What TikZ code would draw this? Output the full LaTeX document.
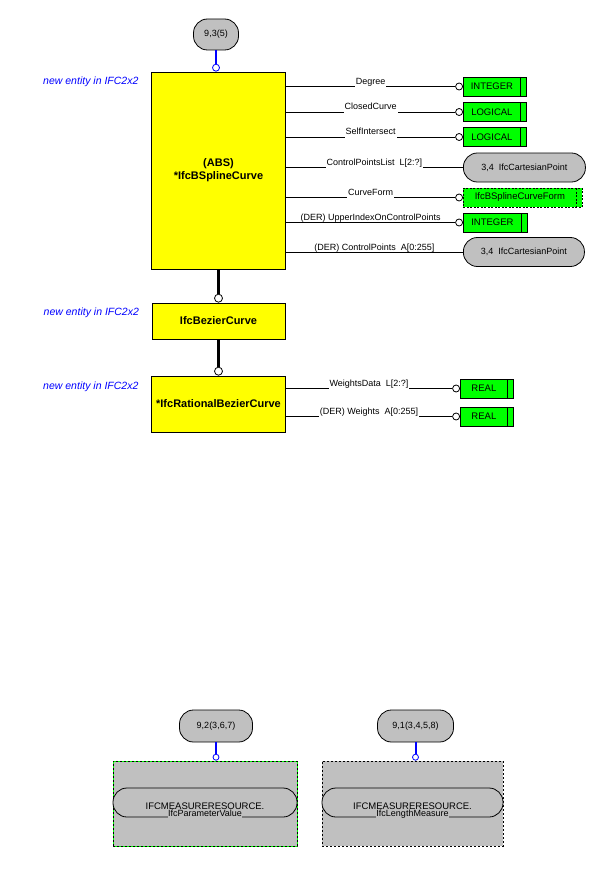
\documentclass[tikz,border=0pt]{standalone}
\usepackage{fontspec}
\setmainfont{Liberation Sans}
\usetikzlibrary{positioning}
\definecolor{ifcyellow}{RGB}{255,255,0}
\definecolor{ifcgreen}{RGB}{0,255,0}
\definecolor{ifcgray}{RGB}{192,192,192}
\definecolor{ifcblue}{RGB}{0,0,255}
\tikzset{
	entity/.style={draw,fill=ifcyellow,align=center,font=\fontsize{11}{13}\selectfont\bfseries},
	simple/.style={draw,fill=ifcgreen,anchor=west,minimum height=19pt,inner sep=0pt,font=\fontsize{9.5}{11}\selectfont,
		execute at end node={\hspace{6pt}},
		path picture={\draw ([xshift=-6pt]path picture bounding box.north east) -- ([xshift=-6pt]path picture bounding box.south east);}},
	ref/.style={draw,fill=ifcgray,rounded corners=14pt,minimum height=29pt,inner sep=0pt},
	knob/.style={circle,draw,fill=white,minimum size=7pt,inner sep=0pt},
	attr/.style={fill=white,inner sep=1pt,text height=7pt,text depth=2pt,anchor=base,yshift=2pt},
	newent/.style={text=ifcblue,font=\fontsize{10.5}{12}\selectfont\itshape},
	link/.style={line width=2.6pt},
	uplink/.style={draw=ifcblue,line width=2pt},
	typebox/.style={fill=ifcgray,minimum width=#1,minimum height=85pt,draw,dash pattern=on 2pt off 2pt},
	schema/.style={font=\fontsize{9.5}{11}\selectfont}
}
\begin{document}
\begin{tikzpicture}[x=1pt,y=-1pt,line width=0.8pt,font=\fontsize{9}{11}\selectfont]
	\useasboundingbox (0,0) rectangle (600,888);

	\node[entity,minimum width=134pt,minimum height=197pt] (bspline) at (218.5,170.5) {(ABS)\\*IfcBSplineCurve};
	\node[entity,minimum width=133pt,minimum height=36pt] (bezier) at (218.5,321) {IfcBezierCurve};
	\node[entity,minimum width=134pt,minimum height=56pt] (rational) at (218.5,404) {*IfcRationalBezierCurve};

	\node[newent,left=9pt of bspline.north west,yshift=-10pt] (newA) {new entity in IFC2x2};
	\node[newent,left=9pt of bezier.north west,yshift=-10pt] (newB) {new entity in IFC2x2};
	\node[newent,left=9pt of rational.north west,yshift=-11pt] (newC) {new entity in IFC2x2};

	\node[ref,minimum width=45pt,minimum height=31pt] (super) at (216,34.5) {9,3(5)};
	\node[knob,draw=ifcblue,anchor=south] (superK) at (super.south |- bspline.north) {};
	\draw[uplink] (super) -- (superK);

	\node[knob,minimum size=8pt,above=0pt of bezier] (bezierK) {};
	\node[knob,minimum size=8pt,above=0pt of rational] (rationalK) {};
	\draw[link] (bspline) -- (bezierK);
	\draw[link] (bezier) -- (rationalK);

	\node[simple,minimum width=63pt] (degT) at (463,86.5) {INTEGER};
	\node[simple,minimum width=63pt] (closedT) at (463,112) {LOGICAL};
	\node[simple,minimum width=63pt] (selfT) at (463,137) {LOGICAL};
	\node[ref,minimum width=122pt,anchor=west] (cplistT) at (463,167.5) {3,4\ \ IfcCartesianPoint};
	\node[simple,minimum width=119pt,dash pattern=on 2pt off 1.5pt] (formT) at (463,197.5) {IfcBSplineCurveForm};
	\node[simple,minimum width=64pt] (upperT) at (463,222.5) {INTEGER};
	\node[ref,minimum width=121pt,anchor=west] (cpointsT) at (463,252) {3,4\ \ IfcCartesianPoint};

	\foreach \t in {degT,closedT,selfT,formT,upperT}
		\node[knob,left=0pt of \t] (\t K) {};

	\draw (bspline.east |- degTK) -- node[attr] {Degree} (degTK);
	\draw (bspline.east |- closedTK) -- node[attr] {ClosedCurve} (closedTK);
	\draw (bspline.east |- selfTK) -- node[attr] {SelfIntersect} (selfTK);
	\draw (bspline.east |- cplistT) -- node[attr] {ControlPointsList\ \ L[2:?]} (cplistT);
	\draw (bspline.east |- formTK) -- node[attr] {CurveForm} (formTK);
	\draw (bspline.east |- upperTK) -- node[attr,fill=none] {(DER) UpperIndexOnControlPoints} (upperTK);
	\draw (bspline.east |- cpointsT) -- node[attr,fill=none] {(DER) ControlPoints\ \ A[0:255]} (cpointsT);

	\node[simple,minimum width=53pt] (wdataT) at (460,388.5) {REAL};
	\node[simple,minimum width=53pt] (weightsT) at (460,416.5) {REAL};
	\node[knob,left=0pt of wdataT] (wdataTK) {};
	\node[knob,left=0pt of weightsT] (weightsTK) {};
	\draw (rational.east |- wdataTK) -- node[attr] {WeightsData\ \ L[2:?]} (wdataTK);
	\draw (rational.east |- weightsTK) -- node[attr] {(DER) Weights\ \ A[0:255]} (weightsTK);

	\node[typebox=184pt,postaction={draw=ifcgreen,dash pattern=on 2pt off 2pt,dash phase=2pt}] (paramBox) at (205,803.5) {};
	\node[ref,minimum width=184pt] (paramPill) at (205,802.5) {};
	\node[schema] (paramSchema) at ([yshift=-3.5pt]paramPill.center) {IFCMEASURERESOURCE.};
	\node[fill=ifcgray,inner sep=0.5pt,text depth=1.5pt,anchor=base] (paramName) at ([yshift=0.5pt]paramPill.south) {IfcParameterValue};
	\node[ref,minimum width=73pt,minimum height=32pt] (paramUp) at (216,726) {9,2(3,6,7)};
	\node[knob,draw=ifcblue,minimum size=6pt,anchor=south] (paramK) at (paramUp.south |- paramBox.north) {};
	\draw[uplink] (paramUp) -- (paramK);

	\node[typebox=181pt] (lengthBox) at (412.5,803.5) {};
	\node[ref,minimum width=181pt] (lengthPill) at (412.5,802.5) {};
	\node[schema] (lengthSchema) at ([yshift=-3.5pt]lengthPill.center) {IFCMEASURERESOURCE.};
	\node[fill=ifcgray,inner sep=0.5pt,text depth=1.5pt,anchor=base] (lengthName) at ([yshift=0.5pt]lengthPill.south) {IfcLengthMeasure};
	\node[ref,minimum width=76pt,minimum height=32pt] (lengthUp) at (415.5,726) {9,1(3,4,5,8)};
	\node[knob,draw=ifcblue,minimum size=6pt,anchor=south] (lengthK) at (lengthUp.south |- lengthBox.north) {};
	\draw[uplink] (lengthUp) -- (lengthK);

\end{tikzpicture}
\end{document}
